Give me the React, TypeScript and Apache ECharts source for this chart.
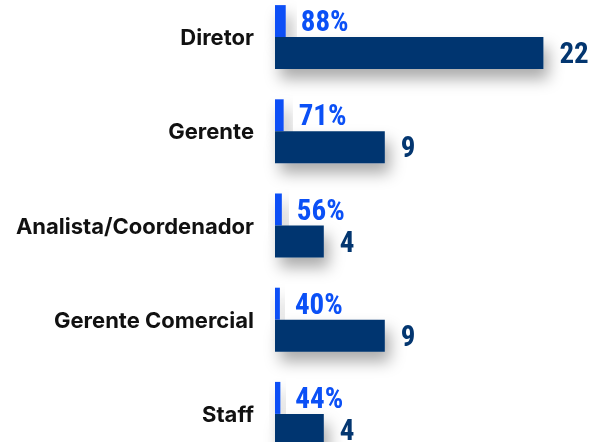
import React, { useEffect, useRef } from "react";
import * as echarts from "echarts";

const categories = ["Diretor", "Gerente", "Analista/Coordenador", "Gerente Comercial", "Staff"];
const percentValues = [88, 71, 56, 40, 44];
const countValues = [22, 9, 4, 9, 4];

const BLUE = "#0b50f6";
const NAVY = "#033670";
const COND = "'Roboto Condensed', 'Liberation Sans Narrow', Roboto, sans-serif";

export default function App() {
  const ref = useRef<HTMLDivElement>(null);
  useEffect(() => {
    if (!ref.current) return;
    const chart = echarts.init(ref.current, null, { renderer: "svg" });
    const shadow = {
      shadowColor: "rgba(0,0,0,0.33)",
      shadowBlur: 15,
      shadowOffsetX: 5,
      shadowOffsetY: 10,
    };
    chart.setOption({
      animation: false,
      grid: { left: 275, right: 17, top: 0, bottom: 0 },
      xAxis: {
        type: "value",
        min: 0,
        max: 25,
        show: false,
      },
      yAxis: {
        type: "category",
        inverse: true,
        data: categories,
        axisLine: { show: false },
        axisTick: { show: false },
        splitLine: { show: false },
        axisLabel: {
          margin: 21,
          color: "#111111",
          fontSize: 22,
          fontWeight: "bold",
          fontFamily: "Inter, 'Noto Sans', sans-serif",
          padding: [0, 0, 3, 0],
        },
      },
      series: [
        {
          type: "bar",
          data: percentValues.map((p) => p / 100),
          barWidth: 32,
          barGap: "0%",
          itemStyle: { color: BLUE, ...shadow },
          label: {
            show: true,
            position: "right",
            distance: 15,
            color: BLUE,
            fontSize: 29,
            fontWeight: "bold",
            fontFamily: COND,
            formatter: (p: any) => percentValues[p.dataIndex] + "%",
          },
        },
        {
          type: "bar",
          data: countValues,
          barWidth: 32,
          barGap: "0%",
          itemStyle: { color: NAVY, ...shadow },
          label: {
            show: true,
            position: "right",
            distance: 16,
            color: NAVY,
            fontSize: 29,
            fontWeight: "bold",
            fontFamily: COND,
          },
        },
      ],
    });
    return () => chart.dispose();
  }, []);
  return (
    <div
      ref={ref}
      style={{ position: "fixed", left: 0, top: -10, width: 597, height: 471 }}
    />
  );
}
